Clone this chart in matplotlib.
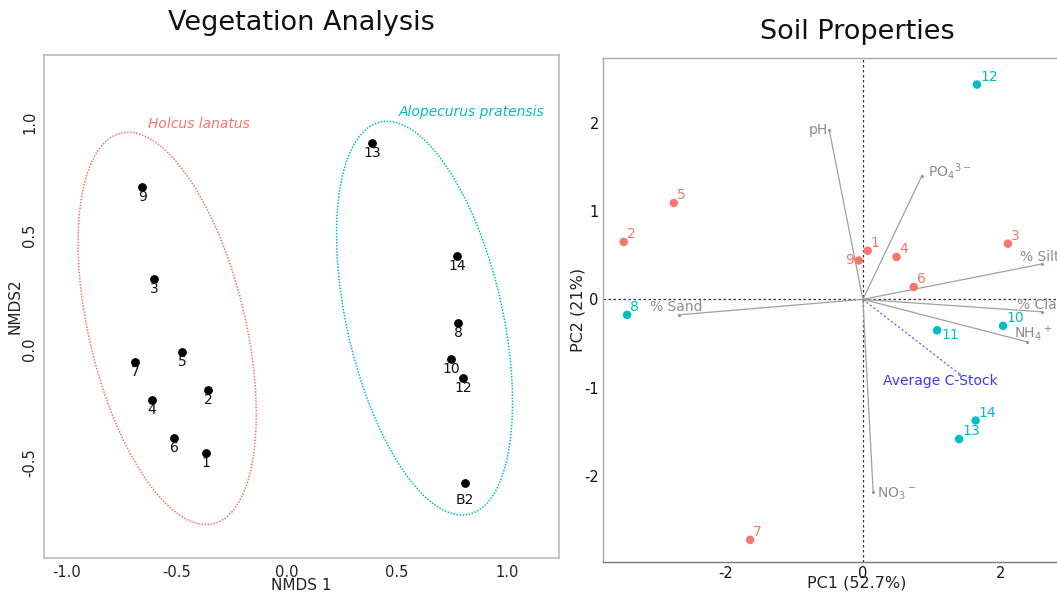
import numpy as np
import matplotlib
matplotlib.use("Agg")
import matplotlib.pyplot as plt

plt.rcParams['font.family'] = ['DejaVu Sans']
plt.rcParams['mathtext.default'] = 'regular'
plt.rcParams['axes.unicode_minus'] = False

RED = '#F8766D'
CYAN = '#00BFC4'

# ---- Vegetation analysis (NMDS) ----
nmdsLabels = ['9', '3', '5', '7', '2', '4', '6', '1', '13', '14', '8', '10', '12', 'B2']
nmds1 = [-0.659, -0.605, -0.477, -0.691, -0.359, -0.614, -0.514, -0.368,
         0.386, 0.773, 0.777, 0.745, 0.800, 0.809]
nmds2 = [0.714, 0.308, -0.013, -0.057, -0.181, -0.225, -0.388, -0.454,
         0.907, 0.410, 0.115, -0.044, -0.128, -0.586]

# ellipses: centre x, centre y, half width, half height, x-y coupling
groupNames = ['Holcus lanatus', 'Alopecurus pratensis']
ellCx = [-0.545, 0.625]
ellCy = [0.092, 0.137]
ellHx = [0.405, 0.400]
ellHy = [0.863, 0.866]
ellR = [-0.437, -0.426]
groupTextXY = [(-0.632, 0.991), (0.509, 1.044)]

# ---- Soil properties (PCA) ----
siteLabels = ['2', '5', '8', '12', '1', '9', '4', '3', '6', '11', '10', '14', '13', '7']
pc1 = [-3.48, -2.75, -3.43, 1.66, 0.07, -0.06, 0.49, 2.11, 0.74, 1.08, 2.04, 1.64, 1.40, -1.64]
pc2 = [0.65, 1.09, -0.175, 2.43, 0.55, 0.44, 0.48, 0.63, 0.14, -0.35, -0.30, -1.37, -1.58, -2.72]
siteGroup = ['H', 'H', 'A', 'A', 'H', 'H', 'H', 'H', 'H', 'A', 'A', 'A', 'A', 'H']

varNames = ['pH', r'PO$_4$$^{3-}$', '% Silt', '% Clay', r'NH$_4$$^+$',
            'Average C-Stock', r'NO$_3$$^-$', '% Sand']
varPC1 = [-0.49, 0.86, 2.60, 2.60, 2.39, 1.40, 0.15, -2.68]
varPC2 = [1.92, 1.40, 0.40, -0.14, -0.48, -0.84, -2.18, -0.175]

px = 0.72  # points per pixel at 100 dpi

fig = plt.figure(figsize=(10.57, 5.95), dpi=100)

# left panel
ax1 = fig.add_axes([0.0416, 0.0622, 0.4872, 0.8454])
ax1.set_xlim(-1.105, 1.236)
ax1.set_ylim(-0.918, 1.295)
ax1.scatter(nmds1, nmds2, s=28, color='black', zorder=3)
for lab, x, y in zip(nmdsLabels, nmds1, nmds2):
    dy = -17 if lab == 'B2' else -10
    ax1.annotate(lab, (x, y), xytext=(0, dy * px), textcoords='offset points',
                 ha='center', va='center', fontsize=10, color='#111111')

t = np.linspace(0, 2 * np.pi, 300)
for i, col in enumerate([RED, CYAN]):
    phi = np.arccos(ellR[i])
    ex = ellCx[i] + ellHx[i] * np.cos(t)
    ey = ellCy[i] + ellHy[i] * np.cos(t - phi)
    ax1.plot(ex, ey, color=col, lw=1.1, linestyle=(0, (1, 1)))
    ax1.text(groupTextXY[i][0], groupTextXY[i][1], groupNames[i], color=col,
             fontstyle='italic', fontsize=10, ha='left', va='center')

ax1.set_xticks([-1.0, -0.5, 0.0, 0.5, 1.0])
ax1.set_yticks([-0.5, 0.0, 0.5, 1.0])
ax1.set_xticklabels(['-1.0', '-0.5', '0.0', '0.5', '1.0'])
ax1.set_yticklabels(['-0.5', '0.0', '0.5', '1.0'], rotation=90, va='center')
ax1.tick_params(length=0, labelsize=10.5, pad=5, colors='#222222')
ax1.set_xlabel('NMDS 1', fontsize=11, color='#222222')
ax1.set_ylabel('NMDS2', fontsize=11, color='#222222')
ax1.xaxis.set_label_coords(0.5, -0.040)
ax1.yaxis.set_label_coords(-0.041, 0.5)
for sp in ax1.spines.values():
    sp.set_color('#BBBBBB')
    sp.set_linewidth(1.2)
ax1.set_title('Vegetation Analysis', fontsize=19.5, color='#111111', pad=18)

# right panel (runs off the right edge like the original)
ax2 = fig.add_axes([0.5705, 0.0555, 0.4806, 0.847])
ax2.set_xlim(-3.78, 3.61)
ax2.set_ylim(-2.97, 2.73)
ax2.axhline(0, color='#333333', lw=0.9, linestyle=(0, (2, 2)), zorder=1)
ax2.axvline(0, color='#333333', lw=0.9, linestyle=(0, (2, 2)), zorder=1)

for name, x, y in zip(varNames, varPC1, varPC2):
    if name == 'Average C-Stock':
        ax2.plot([0, x], [0, y], color='#5555FF', lw=0.8, linestyle=(0, (2, 2)))
    else:
        ax2.plot([0, x], [0, y], color='#A0A0A0', lw=0.9)
    ax2.plot([x], [y], marker='.', color='#7799DD', ms=2.5)

varOffsets = {'pH': (-1, 0, 'right'), r'PO$_4$$^{3-}$': (6, 4, 'left'),
              '% Silt': (-22, 7, 'left'), '% Clay': (-25, 7, 'left'),
              r'NH$_4$$^+$': (-13, 9, 'left'), 'Average C-Stock': (-19, -7, 'center'),
              r'NO$_3$$^-$': (4, -2, 'left'), '% Sand': (-29, 8, 'left')}
for name, x, y in zip(varNames, varPC1, varPC2):
    dx, dy, ha = varOffsets[name]
    col = '#3A3AFF' if name == 'Average C-Stock' else '#8C8C8C'
    ax2.annotate(name, (x, y), xytext=(dx * px, dy * px), textcoords='offset points',
                 ha=ha, va='center', fontsize=10, color=col)

colors = [RED if g == 'H' else CYAN for g in siteGroup]
ax2.scatter(pc1, pc2, s=26, color=colors, zorder=3)
labelOffsets = {'9': (-5, 0, 'right'), '11': (4, -5, 'left')}
for lab, x, y, col in zip(siteLabels, pc1, pc2, colors):
    dx, dy, ha = labelOffsets.get(lab, (3, 8, 'left'))
    ax2.annotate(lab, (x, y), xytext=(dx * px, dy * px), textcoords='offset points',
                 ha=ha, va='center', fontsize=10, color=col)

ax2.set_xticks([-2, 0, 2])
ax2.set_yticks([-2, -1, 0, 1, 2])
ax2.tick_params(length=0, labelsize=10.5, pad=3, colors='#111111')
ax2.set_xlabel('PC1 (52.7%)', fontsize=11.5, color='#222222')
ax2.set_ylabel('PC2 (21%)', fontsize=11.5, color='#222222')
ax2.xaxis.set_label_coords(0.5, -0.027)
ax2.yaxis.set_label_coords(-0.035, 0.5)
for sp in ax2.spines.values():
    sp.set_color('#AAAAAA')
    sp.set_linewidth(1.0)
ax2.spines['bottom'].set_color('#777777')
ax2.set_title('Soil Properties', fontsize=19.5, color='#111111', pad=14)

fig.savefig('out.png', dpi=100)
